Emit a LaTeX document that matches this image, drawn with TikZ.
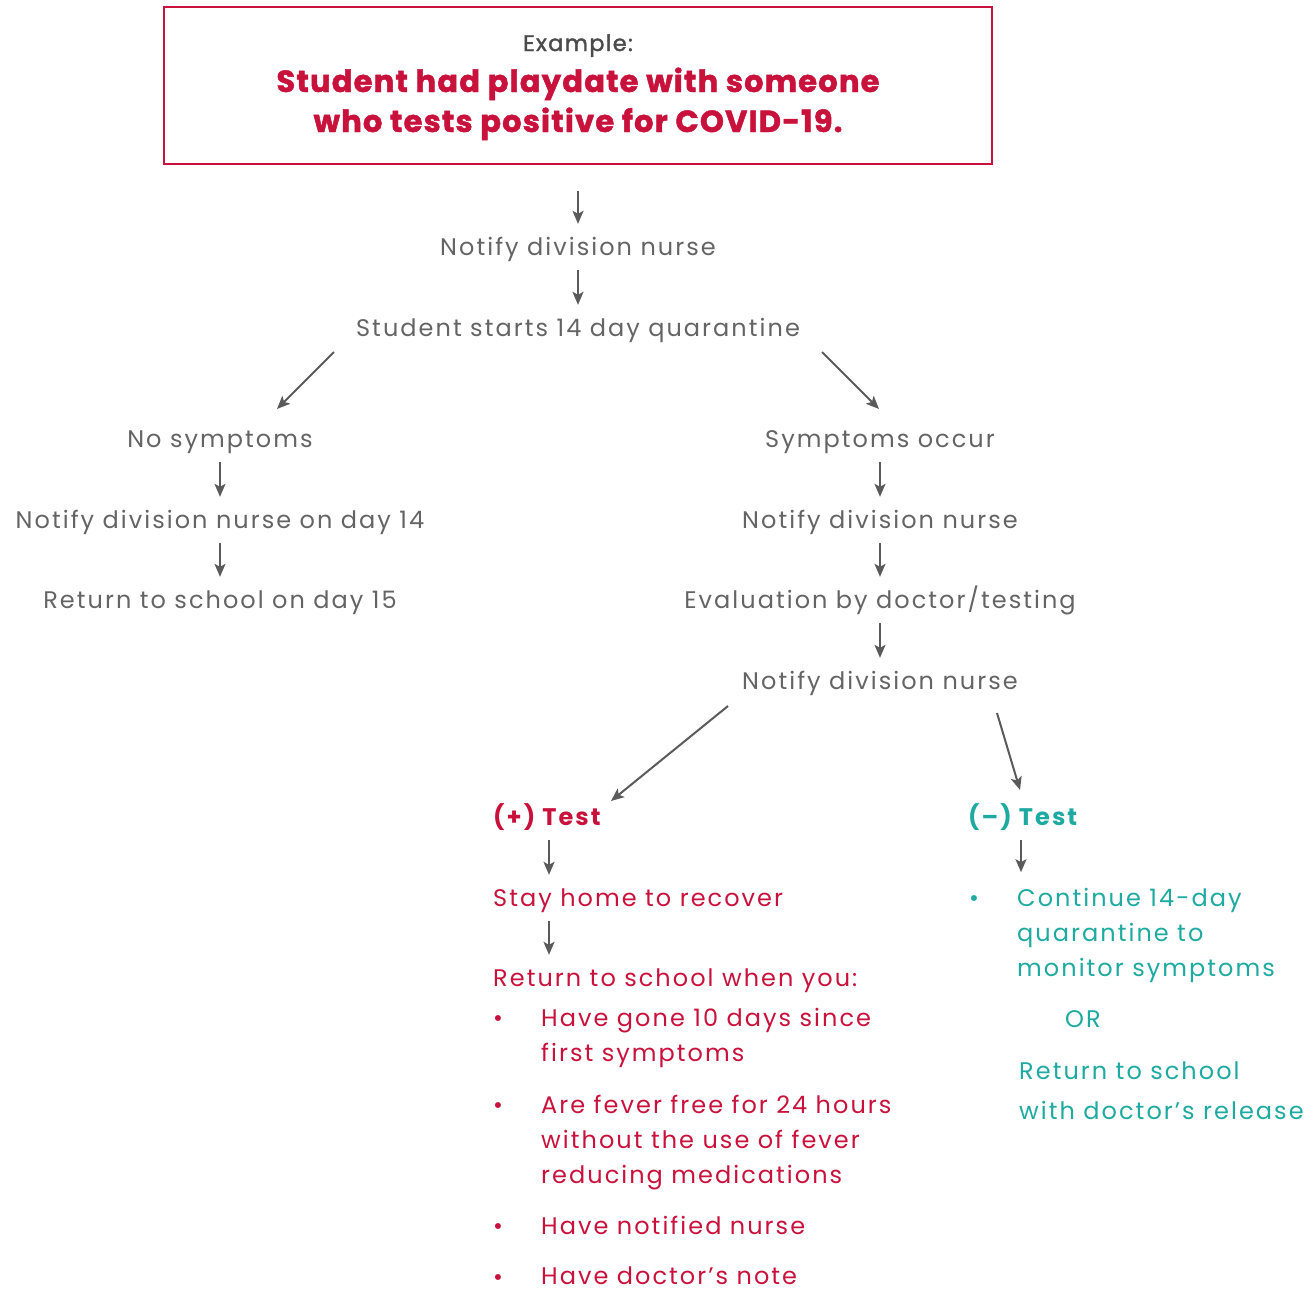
\documentclass[tikz,border=0pt]{standalone}
\usepackage{fontspec}
\setmainfont{Poppins}[LetterSpace=8.5]
\newfontfamily\heavy{Poppins}[LetterSpace=4,BoldFeatures={FakeBold=1.6}]
\newfontfamily\semif{Poppins}[LetterSpace=6,FakeBold=1.6]
\usetikzlibrary{arrows.meta,calc}
\definecolor{crim}{RGB}{200,18,60}
\definecolor{teal1}{RGB}{30,170,160}
\definecolor{gray1}{RGB}{100,100,100}
\definecolor{gray2}{RGB}{75,75,75}
\definecolor{arrc}{RGB}{90,90,90}
\begin{document}
\begin{tikzpicture}[x=1pt,y=-1pt,
  txt/.style={inner sep=0pt,text height=19pt,text depth=3pt,font=\fontsize{24}{35}\selectfont,text=gray1},
  ltxt/.style={inner sep=0pt,font=\fontsize{24}{35}\selectfont,align=left,anchor=north west},
  ttl/.style={inner sep=0pt,text height=25pt,text depth=3pt,font=\heavy\fontsize{30.5}{40}\bfseries\selectfont,text=crim},
  btxt/.style={txt,anchor=west,font=\fontsize{24}{35}\bfseries\selectfont},
  arr/.style={draw=arrc,line width=2pt,-{Stealth[length=13pt,width=11pt,inset=3pt]},shorten <=12pt,shorten >=12pt},
]
\useasboundingbox (0,0) rectangle (1315,1291);
\node[draw=crim,line width=2.2pt,minimum width=828pt,minimum height=157pt,inner sep=0pt] (box) at (578,85.5) {};
\node[txt,font=\semif\fontsize{22.5}{30}\selectfont,text=gray2] (ex) at (578,43) {Example:};
\node[ttl] (t1) at (578,81) {Student had playdate with someone};
\node[ttl] (t2) at (578,121) {who tests positive for COVID-19.};

\node[txt] (n1) at (578,247) {Notify division nurse};
\node[txt] (st) at (578,328) {Student starts 14 day quarantine};
\node[txt] (ns) at (220,439) {No symptoms};
\node[txt] (nd) at (220,520) {Notify division nurse on day 14};
\node[txt] (rs) at (220,600) {Return to school on day 15};
\node[txt] (so) at (880,439) {Symptoms occur};
\node[txt] (n2) at (880,520) {Notify division nurse};
\node[txt] (ev) at (880,600) {Evaluation by doctor/testing};
\node[txt] (n3) at (880,681) {Notify division nurse};

\node[btxt,text=crim] (pt) at (493,817) {(+) Test};
\node[btxt,text=teal1] (mt) at (968,817) {(–) Test};
\node[txt,anchor=west,text=crim] (sh) at (493,898) {Stay home to recover};
\node[txt,anchor=west,text=crim] (rw) at (493,978) {Return to school when you:};

\node[ltxt,text=crim] (b1) at (541,1008) {Have gone 10 days since\\first symptoms};
\node[ltxt,text=crim] (b2) at (541,1095) {Are fever free for 24 hours\\without the use of fever\\reducing medications};
\node[ltxt,text=crim] (b3) at (541,1216) {Have notified nurse};
\node[ltxt,text=crim] (b4) at (541,1267) {Have doctor’s note};
\foreach \y/\n in {1018/d1,1105/d2,1226/d3,1277/d4}
  \node[txt,anchor=west,text=crim] (\n) at (493,\y) {•};

\node[txt,anchor=west,text=teal1] (d5) at (969,898) {•};
\node[ltxt,text=teal1] (c1) at (1017,888) {Continue 14-day\\quarantine to\\monitor symptoms};
\node[txt,anchor=west,text=teal1] (or) at (1065,1019) {OR};
\node[ltxt,text=teal1,font=\fontsize{24}{40}\selectfont] (c2) at (1019,1062) {Return to school\\with doctor’s release};

\draw[arr,shorten <=26pt] (box.south) -- (n1.north);
\draw[arr] (n1.south) -- (st.north);
\draw[arr,shorten <=0pt,shorten >=0pt] ($(st)+(-244,24)$) -- ($(ns)+(57,-30)$);
\draw[arr,shorten <=0pt,shorten >=0pt] ($(st)+(244,24)$) -- ($(so)+(-1,-30)$);
\draw[arr] (ns.south) -- (nd.north);
\draw[arr] (nd.south) -- (rs.north);
\draw[arr] (so.south) -- (n2.north);
\draw[arr] (n2.south) -- (ev.north);
\draw[arr] (ev.south) -- (n3.north);
\draw[arr,shorten <=0pt,shorten >=0pt] ($(n3)+(-152,25)$) -- ($(pt.west)+(118,-16)$);
\draw[arr,shorten <=0pt,shorten >=0pt] ($(n3)+(117,32)$) -- ($(mt.west)+(52,-27)$);
\draw[arr] ($(pt.south west)+(56,0)$) -- ($(sh.north west)+(56,0)$);
\draw[arr,shorten >=0pt] ($(mt.south west)+(53,0)$) -- ($(mt.south west)+(53,44)$);
\draw[arr] ($(sh.south west)+(56,0)$) -- ($(rw.north west)+(56,0)$);
\end{tikzpicture}
\end{document}
